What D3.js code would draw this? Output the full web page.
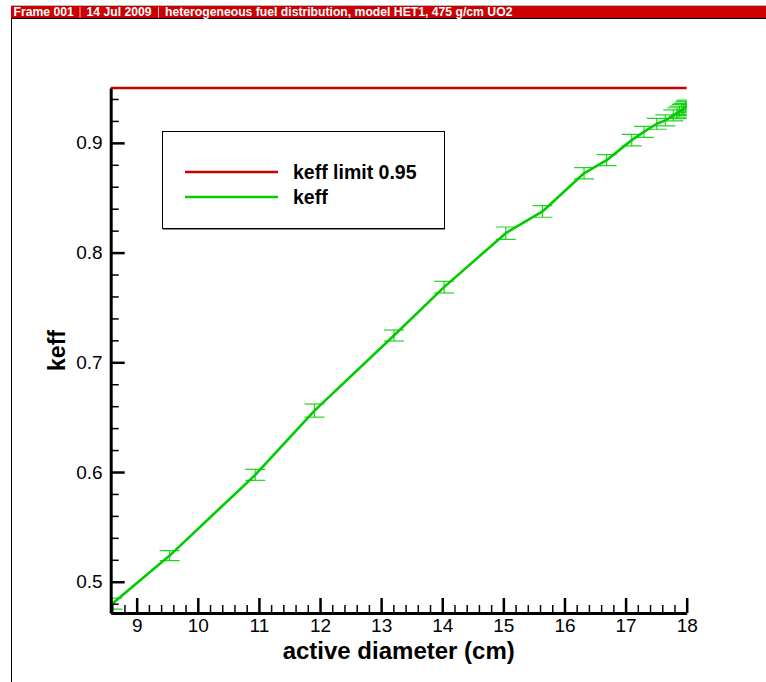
<!DOCTYPE html>
<html>
<head>
<meta charset="utf-8">
<script src="https://cdn.jsdelivr.net/npm/d3@7"></script>
<style>
  body { margin: 0; background: #fff; }
  svg { display: block; font-family: "Liberation Sans", Arial, sans-serif; }
</style>
</head>
<body>
<div id="chart"></div>
<script>
const width = 766;
const height = 682;

// active diameter (cm) and keff
const diameter = [8.6, 9.54, 10.94, 11.91, 13.21, 14.03, 15.04, 15.64, 16.32, 16.69,
    17.10, 17.30, 17.51, 17.65, 17.78, 17.84, 17.88, 17.92, 17.95, 17.98, 18.0];
const keff = [0.480, 0.5238, 0.5974, 0.656, 0.7244, 0.7685, 0.8177, 0.8375, 0.8723, 0.8842,
    0.9025, 0.910, 0.9174, 0.9205, 0.925, 0.927, 0.9285, 0.930, 0.931, 0.9325, 0.934];
const sigma = [0.005, 0.0046, 0.005, 0.006, 0.005, 0.0053, 0.0056, 0.0053, 0.0052, 0.005,
    0.0053, 0.005, 0.005, 0.005, 0.005, 0.005, 0.005, 0.005, 0.005, 0.005, 0.005];
const keffLimit = 0.95;

const xMajor = [9, 10, 11, 12, 13, 14, 15, 16, 17, 18];
const yMajor = [0.5, 0.6, 0.7, 0.8, 0.9];

const headerItems = ["Frame 001", "14 Jul 2009", "heterogeneous fuel distribution, model HET1, 475 g/cm UO2"];
const legendLabels = ["keff limit 0.95", "keff"];

const red = "#cc0000";
const green = "#00cc00";

const data = diameter.map((d, i) => ({ x: d, y: keff[i], s: sigma[i] }));

const x = d3.scaleLinear().domain([8.575, 18]).range([110.7, 686.7]);
const y = d3.scaleLinear().domain([0.4715, 0.95]).range([613, 88]);

const xMinor = d3.range(8.6, 18, 0.2).map(v => +v.toFixed(1)).filter(v => !xMajor.includes(v));
const yMinor = d3.range(0.48, 0.95, 0.02).map(v => +v.toFixed(2)).filter(v => !yMajor.some(m => Math.abs(m - v) < 1e-6));

const svg = d3.select("#chart").append("svg")
    .attr("width", width)
    .attr("height", height);

// frame and header bar
svg.append("line").attr("x1", 11).attr("x2", width).attr("y1", 5.5).attr("y2", 5.5)
    .attr("stroke", "#bbb").attr("stroke-width", 1);
svg.append("line").attr("x1", 11.5).attr("x2", 11.5).attr("y1", 6).attr("y2", height)
    .attr("stroke", "#000").attr("stroke-width", 1);
svg.append("rect").attr("x", 11).attr("y", 6).attr("width", width - 11).attr("height", 12)
    .attr("fill", red);
svg.append("line").attr("x1", 11).attr("x2", width).attr("y1", 18.5).attr("y2", 18.5)
    .attr("stroke", "#000").attr("stroke-width", 1);

const headerX = [13.5, 86.5, 165];
const sepX = [80, 158.5];
svg.selectAll(".hdr")
    .data(headerItems)
    .join("text")
    .attr("class", "hdr")
    .attr("x", (d, i) => headerX[i])
    .attr("y", 16.2)
    .attr("fill", "#fff")
    .style("font-size", "12.2px")
    .style("font-weight", "bold")
    .text(d => d);
svg.selectAll(".sep")
    .data(sepX)
    .join("line")
    .attr("class", "sep")
    .attr("x1", d => d).attr("x2", d => d)
    .attr("y1", 7).attr("y2", 17.5)
    .attr("stroke", "#f4c0c0").attr("stroke-width", 1);

// clip to the plot area
svg.append("defs").append("clipPath").attr("id", "plot")
    .append("rect")
    .attr("x", x.range()[0]).attr("y", y.range()[1])
    .attr("width", x.range()[1] - x.range()[0])
    .attr("height", y.range()[0] - y.range()[1]);

const plot = svg.append("g").attr("clip-path", "url(#plot)");

// error bars
const bars = plot.append("g")
    .attr("stroke", green)
    .attr("stroke-width", 1.2)
    .attr("stroke-opacity", 0.85);
bars.selectAll(".stem")
    .data(data)
    .join("line")
    .attr("x1", d => x(d.x)).attr("x2", d => x(d.x))
    .attr("y1", d => y(d.y - d.s)).attr("y2", d => y(d.y + d.s));
bars.selectAll(".capTop")
    .data(data)
    .join("line")
    .attr("x1", d => x(d.x) - 10).attr("x2", d => x(d.x) + 10)
    .attr("y1", d => y(d.y + d.s)).attr("y2", d => y(d.y + d.s));
bars.selectAll(".capBot")
    .data(data)
    .join("line")
    .attr("x1", d => x(d.x) - 10).attr("x2", d => x(d.x) + 10)
    .attr("y1", d => y(d.y - d.s)).attr("y2", d => y(d.y - d.s));

// keff curve
plot.append("path")
    .datum(data)
    .attr("fill", "none")
    .attr("stroke", green)
    .attr("stroke-width", 2.6)
    .attr("stroke-linejoin", "round")
    .attr("d", d3.line().x(d => x(d.x)).y(d => y(d.y)));

// limit line
svg.append("line")
    .attr("x1", x.range()[0]).attr("x2", x.range()[1])
    .attr("y1", y(keffLimit)).attr("y2", y(keffLimit))
    .attr("stroke", red)
    .attr("stroke-width", 2.5);

// axes
function styleAxis(g, major) {
    g.select(".domain").attr("stroke", "#000").attr("stroke-width", 3);
    g.selectAll(".tick line").attr("stroke", "#000").attr("stroke-width", major ? 2.5 : 1.5);
    g.selectAll(".tick text").style("font-size", "19px").attr("fill", "#000");
}

svg.append("g")
    .attr("transform", `translate(${x.range()[0]},0)`)
    .call(d3.axisLeft(y).tickValues(yMajor).tickFormat(d3.format(".1f"))
        .tickSizeInner(-14).tickSizeOuter(0).tickPadding(8))
    .call(g => styleAxis(g, true));
svg.append("g")
    .attr("transform", `translate(${x.range()[0]},0)`)
    .call(d3.axisLeft(y).tickValues(yMinor).tickFormat("")
        .tickSizeInner(-8).tickSizeOuter(0))
    .call(g => { g.select(".domain").remove(); styleAxis(g, false); });

svg.append("g")
    .attr("transform", `translate(0,${y.range()[0]})`)
    .call(d3.axisBottom(x).tickValues(xMajor).tickFormat(d3.format("d"))
        .tickSizeInner(-15).tickSizeOuter(0).tickPadding(6))
    .call(g => styleAxis(g, true));
svg.append("g")
    .attr("transform", `translate(0,${y.range()[0]})`)
    .call(d3.axisBottom(x).tickValues(xMinor).tickFormat("")
        .tickSizeInner(-8).tickSizeOuter(0))
    .call(g => { g.select(".domain").remove(); styleAxis(g, false); });

// axis titles
svg.append("text")
    .attr("x", (x.range()[0] + x.range()[1]) / 2)
    .attr("y", 659)
    .attr("text-anchor", "middle")
    .style("font-size", "24px")
    .style("font-weight", "bold")
    .text("active diameter (cm)");

svg.append("text")
    .attr("transform", `translate(65,${(y.range()[0] + y.range()[1]) / 2}) rotate(-90)`)
    .attr("text-anchor", "middle")
    .style("font-size", "23px")
    .style("font-weight", "bold")
    .text("keff");

// legend
const legend = svg.append("g");
legend.append("rect")
    .attr("x", 162.5).attr("y", 131.5)
    .attr("width", 282).attr("height", 97)
    .attr("fill", "#fff")
    .attr("stroke", "#000")
    .attr("stroke-width", 1);
legend.append("line")
    .attr("x1", 163).attr("x2", 445).attr("y1", 229.5).attr("y2", 229.5)
    .attr("stroke", "#888").attr("stroke-width", 1);

const legendColors = [red, green];
const legendY = [172, 197];
legend.selectAll(".lg-line")
    .data(legendLabels)
    .join("line")
    .attr("class", "lg-line")
    .attr("x1", 185).attr("x2", 278)
    .attr("y1", (d, i) => legendY[i]).attr("y2", (d, i) => legendY[i])
    .attr("stroke", (d, i) => legendColors[i])
    .attr("stroke-width", 2.5);
legend.selectAll(".lg-text")
    .data(legendLabels)
    .join("text")
    .attr("class", "lg-text")
    .attr("x", 293)
    .attr("y", (d, i) => legendY[i] + 6.5)
    .style("font-size", "19.5px")
    .style("font-weight", "bold")
    .text(d => d);
</script>
</body>
</html>
